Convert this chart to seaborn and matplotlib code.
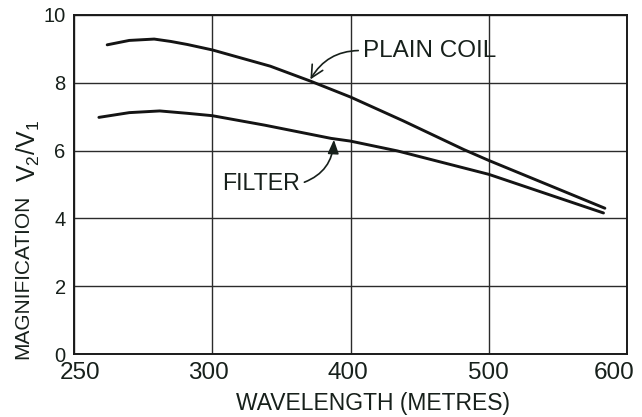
import numpy as np
import pandas as pd
import matplotlib
matplotlib.use("Agg")
import matplotlib.pyplot as plt
import matplotlib.transforms as mtransforms
import seaborn as sns

# Wavelength axis ticks (metres) and magnification ticks
x_ticks = [250, 300, 400, 500, 600]
x_tick_labels = ["250", "300", "400", "500", "600"]
y_ticks = [0, 2, 4, 6, 8, 10]
y_tick_labels = ["0", "2", "4", "6", "8", "10"]

# Plain coil magnification curve
plain_x = [262, 270, 279, 285, 291, 300, 342, 371, 400, 438, 482, 500, 584]
plain_y = [9.12, 9.25, 9.29, 9.22, 9.13, 8.97, 8.49, 8.05, 7.58, 6.88, 6.03, 5.71, 4.30]

# Filter magnification curve
filter_x = [259, 270, 281, 291, 300, 338, 386, 400, 434, 478, 500, 583]
filter_y = [6.98, 7.12, 7.17, 7.10, 7.03, 6.75, 6.36, 6.28, 5.99, 5.53, 5.30, 4.16]

curve_names = ["PLAIN COIL", "FILTER"]

df = pd.concat([
    pd.DataFrame({"wavelength": plain_x, "magnification": plain_y, "curve": curve_names[0]}),
    pd.DataFrame({"wavelength": filter_x, "magnification": filter_y, "curve": curve_names[1]}),
], ignore_index=True)

sns.set_style("white")
plt.rcParams["font.family"] = ["Liberation Sans", "DejaVu Sans"]

INK = "#17201b"
LINE = "#141414"

fig = plt.figure(figsize=(6.42, 4.17), dpi=100)
ax = fig.add_axes([74 / 642, 1 - 354 / 417, (627 - 74) / 642, (354 - 15) / 417])

sns.lineplot(data=df, x="wavelength", y="magnification", hue="curve",
             palette=[LINE, LINE], estimator=None, legend=False,
             linewidth=2.1, ax=ax)


# The wavelength grid has equal-width columns: 250-300, then 100 m steps
def _fwd(x):
    x = np.asarray(x, dtype=float)
    return np.where(x < 300, (x - 250) / 50.0, 1 + (x - 300) / 100.0)


def _inv(u):
    u = np.asarray(u, dtype=float)
    return np.where(u < 1, 250 + 50.0 * u, 300 + 100.0 * (u - 1))


ax.set_xscale("function", functions=(_fwd, _inv))
ax.set_xlim(250, 600)
ax.set_ylim(0, 10)
ax.set_xticks(x_ticks)
ax.set_xticklabels(x_tick_labels)
ax.set_yticks(y_ticks)
ax.set_yticklabels(y_tick_labels)
ax.minorticks_off()

ax.grid(True, color="#2b2b2b", linewidth=1.0)
ax.set_axisbelow(True)
for side in ["left", "right", "top", "bottom"]:
    ax.spines[side].set_visible(True)
    ax.spines[side].set_color("#1a1a1a")
    ax.spines[side].set_linewidth(1.4)

ax.tick_params(axis="both", length=0, labelcolor=INK)
ax.tick_params(axis="x", pad=6, labelsize=17.5)
ax.tick_params(axis="y", pad=6, labelsize=14.5)

# hand-lettered positions of the end labels sit a little off their grid lines
fig.canvas.draw()
x_offsets_px = [6, -4, -3, 0, -13]
for lab, dx in zip(ax.get_xticklabels(), x_offsets_px):
    lab.set_transform(lab.get_transform() +
                      mtransforms.ScaledTranslation(dx / 100, 0, fig.dpi_scale_trans))

ax.set_xlabel("WAVELENGTH (METRES)", fontsize=16.5, color=INK)
ax.xaxis.set_label_coords((373 - 74) / 553, -0.147)
ax.xaxis.label.set_va("center")
ax.set_ylabel("")

ax.text(-0.092, (354 - 277) / 339, "MAGNIFICATION", transform=ax.transAxes,
        rotation=90, ha="center", va="center", fontsize=15, color=INK)
ax.text(-0.082, (354 - 151) / 339, r"$\mathregular{V_2/V_1}$", transform=ax.transAxes,
        rotation=90, ha="center", va="center", fontsize=18, color=INK)

ax.annotate("PLAIN COIL", xy=(371, 8.1), xytext=(409, 8.95),
            ha="left", va="center", fontsize=17.5, color=INK,
            arrowprops=dict(arrowstyle="->,head_length=0.5,head_width=0.25",
                            connectionstyle="arc3,rad=0.3", color=INK, lw=1.2,
                            relpos=(0, 0.5), shrinkA=1, shrinkB=0))
ax.annotate("FILTER", xy=(388, 6.32), xytext=(307, 5.02),
            ha="left", va="center", fontsize=16.7, color=INK,
            arrowprops=dict(arrowstyle="-|>,head_length=0.5,head_width=0.2",
                            connectionstyle="arc3,rad=0.35", color=INK, lw=1.2,
                            relpos=(1, 0.5), shrinkA=1, shrinkB=0))

fig.savefig("out.png", dpi=100)
